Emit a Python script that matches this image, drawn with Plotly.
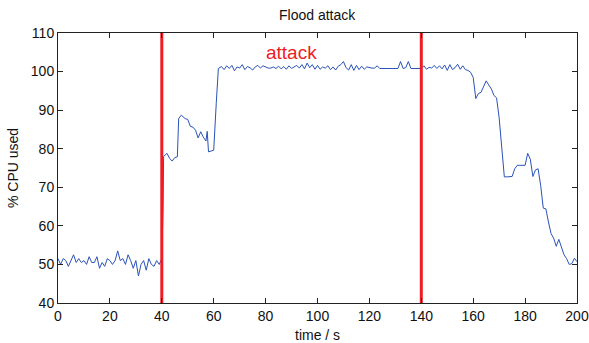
import plotly.graph_objects as go

time_s = [0, 1, 2, 3, 4, 5, 6, 7, 8, 9, 10, 11, 12, 13, 14, 15, 16, 17, 18, 19, 20,
          21, 22, 23, 24, 25, 26, 27, 28, 29, 30, 31, 32, 33, 34, 35, 36, 37, 38, 39, 40,
          40.5, 40.7, 42, 43, 44, 45, 46, 46.5, 47.5, 49, 50, 51, 52, 53, 54, 55, 56, 57, 57.5, 58, 59, 60, 61, 61.8,
          63, 64, 65, 66, 67, 68, 69, 70, 71, 72, 73, 74, 75, 76, 77, 78, 79, 80,
          81, 82, 83, 84, 85, 86, 87, 88, 89, 90, 91, 92, 93, 94, 95, 96, 97, 98, 99, 100,
          101, 102, 103, 104, 105, 106, 107, 108, 109, 110, 111, 112, 113, 114, 115, 116, 117, 118, 119, 120,
          121, 122, 123, 124, 125, 126, 127, 128, 129, 130, 131, 132, 133, 134, 135, 136, 137, 138, 139, 140,
          141, 142, 143, 144, 145, 146, 147, 148, 149, 150, 151, 152, 153, 154, 155, 156, 157, 158, 159, 160,
          161, 162, 163, 164, 165, 166, 167, 168, 169, 170, 171, 172, 173, 174, 175, 176, 177, 178, 179, 180,
          181, 182, 183, 184, 185, 186, 187, 188, 189, 190, 191, 192, 193, 194, 195, 196, 197, 198, 199, 200]

cpu_used = [51.5, 50, 51.5, 51, 49.5, 51, 52.5, 50.5, 51.5, 50.5, 51, 50, 52, 50.5, 50.5, 52, 49, 50.5, 49.5, 51.5, 51,
            50, 51, 53.5, 51, 51.5, 50, 52.5, 51, 49, 51, 47, 50, 51, 48.5, 51.5, 50, 49.5, 51, 50, 51.5,
            65, 78, 78.8, 77.5, 76.8, 77.7, 77.9, 87.8, 88.7, 87.8, 87.6, 85.8, 85.6, 84.8, 82.8, 84.4, 83, 82, 84.5, 79.2, 79.4, 79.6, 92, 100.8,
            101.3, 100.5, 101.5, 100.8, 101.6, 100.2, 101.2, 100.9, 101.8, 100.5, 101.3, 101, 100.4, 101.2, 101.6, 100.9, 101.5, 101.1,
            100.9, 100.9, 101.2, 100.8, 101.4, 100.7, 101.3, 100.6, 101.5, 100.8, 101.2, 101.6, 100.9, 101.8, 100.7, 102.2, 101, 101.8, 100.6, 101.6,
            100.6, 101.2, 100.9, 101.5, 100.5, 101.2, 100.4, 101.4, 101.8, 102.6, 101, 100.4, 101.8, 100.3, 101.6, 100.5, 101.4, 100.6, 101.2, 101,
            100.9, 100.9, 101.5, 100.8, 100.8, 100.8, 100.8, 100.8, 100.8, 100.8, 100.8, 102.6, 100.8, 101, 102.6, 100.8, 100.8, 100.8, 100.8, 100.8,
            101.5, 100.6, 101.1, 100.9, 101.6, 100.8, 101.5, 100.7, 101.7, 100.3, 101.8, 100.5, 101, 101.9, 100.6, 101.5, 100.5, 100.3, 99.8, 98.5,
            93, 94.3, 94.6, 96, 97.6, 96.5, 95.5, 93.8, 93.2, 88, 79.5, 72.7, 72.7, 72.7, 72.8, 74.8, 75.7, 75.7, 75.7, 75.7,
            78.8, 77.3, 72.8, 74.5, 74.8, 70.5, 64.6, 64.4, 61, 58, 56.8, 54.7, 56.5, 54.7, 52.5, 51.5, 50, 50.2, 51.6, 50.7]

attack_bounds = [40, 140]
x_ticks = [0, 20, 40, 60, 80, 100, 120, 140, 160, 180, 200]
y_ticks = [40, 50, 60, 70, 80, 90, 100, 110]

fig = go.Figure()
fig.add_trace(go.Scatter(x=time_s, y=cpu_used, mode="lines",
                         line=dict(color="#2a52b8", width=1), showlegend=False))
for xb in attack_bounds:
    fig.add_trace(go.Scatter(x=[xb, xb], y=[40, 110], mode="lines",
                             line=dict(color="#ee1c24", width=3), showlegend=False))

font_family = "Liberation Sans, Arial, sans-serif"
fig.add_annotation(x=90, y=105, text="attack", showarrow=False,
                   font=dict(family=font_family, size=19, color="#ee1c24"))
fig.add_annotation(x=0.5, y=0, xref="paper", yref="paper", text="time / s",
                   showarrow=False, xanchor="center", yanchor="top", yshift=-22,
                   font=dict(family=font_family, size=14, color="#111111"))

axis_common = dict(showgrid=False, zeroline=False, showline=True, linecolor="#222222",
                   linewidth=1, mirror="ticks", ticks="inside", ticklen=5,
                   tickcolor="#222222", automargin=False,
                   tickfont=dict(family=font_family, size=14, color="#111111"))

fig.update_layout(
    width=589, height=343,
    margin=dict(l=58, r=12, t=33, b=40, autoexpand=False),
    paper_bgcolor="white", plot_bgcolor="white",
    title=dict(text="Flood attack", x=0.5385, xanchor="center", y=0.956, yanchor="middle",
               font=dict(family=font_family, size=14, color="#111111"), automargin=False),
    xaxis=dict(range=[0, 200], tickvals=x_ticks, **axis_common),
    yaxis=dict(range=[40, 110], tickvals=y_ticks,
               title=dict(text="% CPU used", standoff=8,
                          font=dict(family=font_family, size=14, color="#111111")),
               **axis_common),
)

fig.write_html("out.html", config={"displayModeBar": False},
               post_script="document.body.style.margin='0';document.body.style.overflow='hidden';")
